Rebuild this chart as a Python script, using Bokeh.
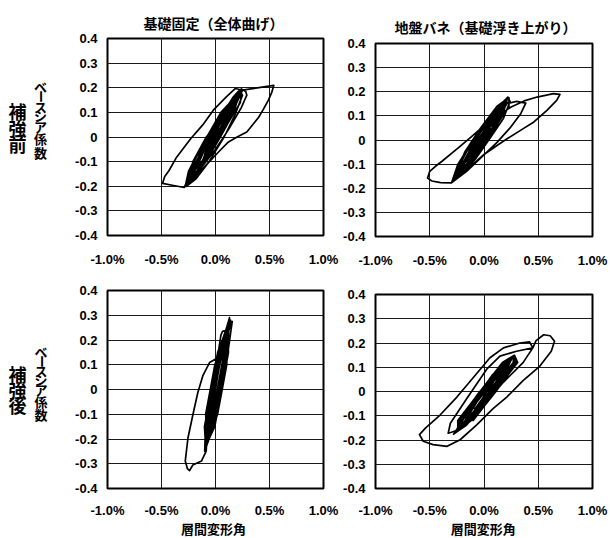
from bokeh.plotting import figure
from bokeh.models import Range1d, FixedTicker, CustomJSTickFormatter
from bokeh.core.properties import value
from bokeh.layouts import column, row
from bokeh.embed import file_html
from bokeh.resources import INLINE

# ---------------- data ----------------
x_ticks = [-1.0, -0.5, 0.0, 0.5, 1.0]
y_ticks = [-0.4, -0.3, -0.2, -0.1, 0.0, 0.1, 0.2, 0.3, 0.4]
col_titles = ["基礎固定（全体曲げ）", "地盤バネ（基礎浮き上がり）"]
row_titles = ["補強前", "補強後"]
y_title = "ベースシア係数"
x_title = "層間変形角"

# (story drift angle [%], base shear coefficient)
tl_pts = [
    (0.00, 0.00), (0.04, 0.06), (0.08, 0.09), (0.10, 0.08), (0.06, 0.03), (-0.02, -0.04),
    (-0.08, -0.08), (-0.10, -0.07), (-0.06, -0.02), (0.02, 0.05), (0.10, 0.12), (0.14, 0.13),
    (0.12, 0.10), (0.04, 0.02), (-0.06, -0.07), (-0.14, -0.12), (-0.16, -0.11), (-0.10, -0.05),
    (0.00, 0.04), (0.10, 0.12), (0.18, 0.17), (0.20, 0.16), (0.14, 0.09), (0.04, 0.00),
    (-0.08, -0.09), (-0.18, -0.16), (-0.22, -0.17), (-0.16, -0.10), (-0.06, -0.01), (0.06, 0.09),
    (0.16, 0.16), (0.22, 0.19), (0.25, 0.17), (0.18, 0.09), (0.08, 0.00), (-0.06, -0.10),
    (-0.18, -0.17), (-0.27, -0.20), (-0.24, -0.16), (-0.14, -0.07), (-0.02, 0.03), (0.10, 0.12),
    (0.20, 0.18), (0.24, 0.195), (0.28, 0.185), (0.29, 0.17), (0.24, 0.12), (0.12, 0.03),
    (0.00, -0.05), (-0.14, -0.13), (-0.29, -0.205), (-0.40, -0.196), (-0.49, -0.188), (-0.47, -0.16),
    (-0.43, -0.136), (-0.36, -0.082), (-0.23, -0.007), (-0.12, 0.048), (-0.02, 0.109), (0.10, 0.163),
    (0.185, 0.197), (0.25, 0.19), (0.54, 0.21), (0.52, 0.18), (0.49, 0.15), (0.44, 0.11),
    (0.40, 0.08), (0.29, 0.02), (0.20, 0.00), (0.12, -0.02), (0.03, -0.06), (-0.10, -0.12),
    (-0.20, -0.17), (-0.29, -0.205), (-0.22, -0.14), (-0.10, -0.05), (0.04, 0.07), (0.14, 0.14),
    (0.18, 0.15), (0.12, 0.08), (0.00, -0.02), (-0.10, -0.10), (-0.14, -0.12), (-0.08, -0.05),
    (0.04, 0.05), (0.10, 0.09), (0.06, 0.05), (0.00, 0.00), (0.06, 0.10), (0.23, 0.19),
    (0.17, 0.10), (0.04, 0.00), (-0.10, -0.10), (-0.27, -0.19), (-0.20, -0.10), (-0.08, 0.00),
    (0.05, 0.10), (0.20, 0.17), (0.17, 0.10), (0.045, 0.00), (-0.09, -0.10), (-0.24, -0.17),
    (-0.21, -0.10), (-0.085, 0.00), (0.005, 0.05), (0.178, 0.15), (0.09, 0.05), (-0.04, -0.05),
    (-0.217, -0.15), (-0.13, -0.05), (-0.02, 0.03), (0.08, 0.08), (0.148, 0.15), (0.22, 0.185),
    (0.208, 0.15), (0.076, 0.05), (-0.056, -0.05), (-0.187, -0.15), (-0.26, -0.185), (-0.247, -0.15),
    (-0.116, -0.05), (-0.004, 0.05), (0.148, 0.15), (0.25, 0.19), (0.208, 0.15), (0.096, 0.05),
    (-0.036, -0.05), (-0.187, -0.15), (-0.24, -0.17), (-0.101, -0.05), (0.031, 0.05), (0.20, 0.165),
    (0.061, 0.05), (-0.071, -0.05), (-0.16, -0.14), (-0.28, -0.20), (-0.25, -0.14), (-0.146, -0.05),
    (-0.014, 0.05), (0.12, 0.13), (0.24, 0.18), (0.23, 0.14), (0.106, 0.05), (-0.026, -0.05),
    (-0.10, -0.08), (-0.02, 0.00),
]

tr_pts = [
    (0.00, 0.00), (0.05, 0.05), (0.10, 0.08), (0.08, 0.05), (0.00, -0.01), (-0.08, -0.06),
    (-0.11, -0.07), (-0.06, -0.02), (0.04, 0.06), (0.12, 0.11), (0.16, 0.12), (0.10, 0.06),
    (0.00, -0.02), (-0.12, -0.10), (-0.18, -0.12), (-0.12, -0.06), (0.00, 0.04), (0.12, 0.12),
    (0.20, 0.16), (0.22, 0.178), (0.24, 0.16), (0.18, 0.09), (0.06, 0.01), (-0.08, -0.08),
    (-0.20, -0.14), (-0.26, -0.16), (-0.20, -0.10), (-0.08, 0.00), (0.06, 0.09), (0.20, 0.15),
    (0.30, 0.16), (0.385, 0.153), (0.34, 0.11), (0.24, 0.05), (0.12, -0.01), (-0.02, -0.07),
    (-0.16, -0.13), (-0.30, -0.178), (-0.40, -0.177), (-0.48, -0.170), (-0.52, -0.158), (-0.50, -0.13),
    (-0.45, -0.11), (-0.39, -0.089), (-0.24, -0.034), (-0.115, 0.014), (0.006, 0.062), (0.13, 0.103),
    (0.25, 0.137), (0.37, 0.162), (0.49, 0.178), (0.64, 0.192), (0.70, 0.189), (0.67, 0.164),
    (0.58, 0.123), (0.46, 0.075), (0.34, 0.041), (0.22, 0.007), (0.13, -0.02), (0.00, -0.06),
    (-0.15, -0.12), (-0.30, -0.178), (-0.22, -0.12), (-0.10, -0.05), (0.04, 0.05), (0.14, 0.11),
    (0.18, 0.12), (0.12, 0.06), (0.00, -0.02), (-0.10, -0.08), (-0.14, -0.09), (-0.06, -0.03),
    (0.04, 0.04), (0.08, 0.05), (0.02, 0.00), (0.05, 0.10), (0.22, 0.178), (0.17, 0.10),
    (0.03, 0.00), (-0.12, -0.10), (-0.30, -0.178), (-0.24, -0.10), (-0.10, 0.00), (0.07, 0.10),
    (0.20, 0.16), (0.15, 0.10), (0.00, 0.00), (-0.15, -0.10), (-0.258, -0.15), (-0.17, -0.05),
    (-0.03, 0.05), (0.18, 0.15), (0.10, 0.05), (-0.05, -0.05), (-0.22, -0.13), (-0.08, -0.01),
    (0.04, 0.06), (0.15, 0.15), (0.21, 0.17), (0.21, 0.15), (0.084, 0.05), (-0.062, -0.05),
    (-0.238, -0.15), (-0.28, -0.165), (-0.278, -0.15), (-0.162, -0.05), (-0.006, 0.05), (0.19, 0.165),
    (0.074, 0.05), (-0.072, -0.05), (-0.25, -0.155), (-0.29, -0.17), (-0.177, -0.05), (-0.031, 0.05),
    (0.12, 0.14), (0.23, 0.175), (0.23, 0.14), (0.099, 0.05), (-0.047, -0.05), (-0.20, -0.14),
    (-0.22, -0.135), (-0.127, -0.05), (0.019, 0.05), (0.17, 0.15), (0.049, 0.05), (-0.097, -0.05),
    (-0.03, 0.00),
]

bl_pts = [
    (0.000, 0.00), (0.037, 0.10), (0.075, 0.16), (0.061, 0.10), (-0.003, -0.05), (-0.053, -0.14),
    (-0.040, -0.05), (0.024, 0.10), (0.092, 0.20), (0.074, 0.10), (0.010, -0.05), (-0.087, -0.22),
    (-0.050, -0.05), (0.014, 0.10), (0.117, 0.26), (0.084, 0.10), (0.020, -0.05), (-0.100, -0.25),
    (-0.060, -0.05), (0.004, 0.10), (0.130, 0.29), (0.100, 0.20), (0.060, 0.14), (0.010, 0.125),
    (-0.055, 0.109), (-0.117, 0.056), (-0.163, -0.011), (-0.210, -0.103), (-0.255, -0.196), (-0.280, -0.289),
    (-0.260, -0.320), (-0.240, -0.328), (-0.210, -0.305), (-0.130, -0.289), (-0.086, -0.249), (-0.065, -0.05),
    (-0.001, 0.10), (0.155, 0.275), (0.099, 0.10), (0.035, -0.05), (-0.079, -0.20), (-0.055, -0.05),
    (0.009, 0.10), (0.050, 0.22), (0.065, 0.235), (0.109, 0.24), (0.089, 0.10), (0.025, -0.05),
    (-0.087, -0.22), (-0.035, -0.05), (0.029, 0.10), (0.122, 0.27), (0.069, 0.10), (0.005, -0.05),
    (-0.062, -0.16), (-0.045, -0.05), (0.019, 0.10), (0.100, 0.22), (0.079, 0.10), (0.015, -0.05),
    (-0.040, -0.10), (0.000, 0.00), (-0.091, -0.23), (-0.102, -0.15), (-0.038, 0.00), (0.025, 0.15),
    (0.126, 0.28), (0.115, 0.15), (0.052, 0.00), (-0.012, -0.15), (-0.079, -0.20), (-0.091, -0.10),
    (-0.048, 0.00), (-0.006, 0.10), (0.113, 0.25), (0.104, 0.10), (0.062, 0.00), (0.019, -0.10),
    (-0.100, -0.25), (-0.066, -0.10), (-0.023, 0.00), (0.019, 0.10), (0.122, 0.27), (0.079, 0.10),
    (0.037, 0.00), (-0.006, -0.10), (-0.087, -0.22), (-0.046, -0.10), (-0.003, 0.00), (0.039, 0.10),
    (0.130, 0.29), (0.059, 0.10), (0.017, 0.00), (-0.026, -0.10), (-0.096, -0.24), (-0.086, -0.10),
    (-0.043, 0.00), (-0.001, 0.10), (0.117, 0.26), (0.099, 0.10), (0.057, 0.00), (0.014, -0.10),
    (-0.050, -0.15), (0.000, 0.00), (-0.100, -0.25), (-0.092, -0.15), (-0.028, 0.00), (0.035, 0.15),
    (0.130, 0.29), (0.105, 0.15), (0.042, 0.00), (-0.022, -0.15), (-0.090, -0.23), (-0.077, -0.15),
    (-0.013, 0.00), (0.050, 0.15), (0.140, 0.28), (0.090, 0.15), (0.027, 0.00), (-0.037, -0.15),
    (-0.080, -0.21), (-0.095, -0.15), (-0.043, 0.00), (0.020, 0.15), (0.110, 0.25), (0.120, 0.15),
    (0.057, 0.00), (-0.007, -0.15), (-0.060, -0.20),
]

br_pts = [
    (0.00, 0.00), (0.05, 0.04), (0.10, 0.07), (0.08, 0.04), (0.00, -0.02), (-0.08, -0.07),
    (-0.10, -0.07), (-0.05, -0.03), (0.04, 0.03), (0.14, 0.09), (0.18, 0.10), (0.14, 0.06),
    (0.02, -0.02), (-0.10, -0.09), (-0.16, -0.12), (-0.12, -0.07), (0.00, 0.01), (0.12, 0.08),
    (0.22, 0.13), (0.26, 0.14), (0.22, 0.10), (0.10, 0.02), (-0.04, -0.06), (-0.16, -0.12),
    (-0.22, -0.15), (-0.18, -0.10), (-0.06, -0.02), (0.08, 0.07), (0.20, 0.12), (0.285, 0.146),
    (0.28, 0.12), (0.18, 0.06), (0.04, -0.03), (-0.10, -0.10), (-0.236, -0.158), (-0.30, -0.168),
    (-0.33, -0.172), (-0.31, -0.131), (-0.16, -0.03), (0.025, 0.092), (0.147, 0.146), (0.30, 0.166),
    (0.45, 0.18), (0.48, 0.21), (0.55, 0.234), (0.61, 0.23), (0.65, 0.207), (0.62, 0.166),
    (0.515, 0.105), (0.36, 0.045), (0.21, -0.023), (0.086, -0.07), (-0.067, -0.138), (-0.22, -0.199),
    (-0.34, -0.226), (-0.47, -0.219), (-0.56, -0.205), (-0.595, -0.178), (-0.54, -0.151), (-0.405, -0.097),
    (-0.25, -0.023), (-0.098, 0.058), (0.055, 0.139), (0.18, 0.18), (0.33, 0.20), (0.42, 0.205),
    (0.45, 0.18), (0.36, 0.119), (0.178, 0.038), (-0.006, -0.057), (-0.16, -0.138), (-0.28, -0.176),
    (-0.20, -0.12), (-0.06, -0.04), (0.08, 0.04), (0.18, 0.09), (0.22, 0.10), (0.16, 0.05),
    (0.02, -0.03), (-0.10, -0.09), (-0.14, -0.10), (-0.08, -0.05), (0.04, 0.02), (0.10, 0.05),
    (0.04, 0.00), (0.05, 0.05), (0.14, 0.10), (0.285, 0.146), (0.27, 0.10), (0.19, 0.05),
    (0.11, 0.00), (0.02, -0.05), (-0.07, -0.10), (-0.236, -0.158), (-0.20, -0.10), (-0.12, -0.05),
    (-0.04, 0.00), (0.08, 0.05), (0.22, 0.13), (0.16, 0.05), (0.07, 0.00), (-0.01, -0.05),
    (-0.20, -0.14), (-0.09, -0.05), (0.00, 0.00), (0.09, 0.05), (0.21, 0.12), (0.27, 0.14),
    (0.27, 0.12), (0.15, 0.05), (-0.021, -0.05), (-0.142, -0.12), (-0.22, -0.15), (-0.202, -0.12),
    (-0.081, -0.05), (0.065, 0.05), (0.185, 0.12), (0.26, 0.145), (0.295, 0.12), (0.175, 0.05),
    (0.004, -0.05), (-0.117, -0.12), (-0.23, -0.155), (-0.227, -0.12), (-0.106, -0.05), (0.105, 0.05),
    (0.25, 0.135), (0.135, 0.05), (-0.036, -0.05), (-0.20, -0.14), (-0.24, -0.16), (-0.242, -0.12),
    (-0.121, -0.05), (0.05, 0.05), (0.17, 0.12), (0.28, 0.15), (0.31, 0.12), (0.19, 0.05),
    (0.019, -0.05), (-0.10, -0.12), (-0.05, -0.06), (0.02, 0.00),
]

# ---------------- styling helpers ----------------
CJK = "Noto Sans CJK JP"
NUM = "Liberation Sans"


def make_panel(pts, w, h, left, right, top, bottom, x_standoff):
    p = figure(width=w, height=h, x_range=Range1d(-1.0, 1.0), y_range=Range1d(-0.4, 0.4),
               output_backend="svg", toolbar_location=None,
               min_border_left=left, min_border_right=right,
               min_border_top=top, min_border_bottom=bottom,
               background_fill_color="white", border_fill_color="white")
    xs = [a for a, b in pts]
    ys = [b for a, b in pts]
    p.line(xs, ys, line_color="black", line_width=1.7, line_join="round")

    p.xaxis.ticker = FixedTicker(ticks=x_ticks)
    p.yaxis.ticker = FixedTicker(ticks=y_ticks)
    p.xaxis.formatter = CustomJSTickFormatter(code="return tick.toFixed(1) + '%';")
    p.yaxis.formatter = CustomJSTickFormatter(
        code="return Math.abs(tick) < 1e-9 ? '0' : tick.toFixed(1);")
    for ax in (p.xaxis, p.yaxis):
        ax.axis_line_color = None
        ax.major_tick_line_color = None
        ax.minor_tick_line_color = None
        ax.major_tick_out = 0
        ax.major_tick_in = 0
        ax.major_label_text_font = NUM
        ax.major_label_text_font_style = "bold"
        ax.major_label_text_font_size = "13px"
        ax.major_label_text_color = "black"
    p.xaxis.major_label_standoff = x_standoff
    p.yaxis.major_label_standoff = 10

    p.grid.grid_line_color = "#1a1a1a"
    p.grid.grid_line_width = 1
    p.grid.grid_line_alpha = 1.0
    p.outline_line_color = "black"
    p.outline_line_width = 2
    p.outline_line_alpha = 1.0
    return p


def text_panel(w, h, items):
    """A bare figure whose data space is its own pixel grid (y downwards)."""
    f = figure(width=w, height=h, x_range=Range1d(0, w), y_range=Range1d(h, 0),
               output_backend="svg", toolbar_location=None,
               x_axis_location=None, y_axis_location=None,
               min_border=0, min_border_left=0, min_border_right=0,
               min_border_top=0, min_border_bottom=0,
               background_fill_color="white", border_fill_color="white")
    f.outline_line_color = None
    f.grid.visible = False
    for txt, x, y, size, angle in items:
        f.text(x=[x], y=[y], text=[txt], angle=angle, angle_units="deg",
               text_font=value(CJK), text_font_style="bold", text_font_size=size,
               text_color="black", text_align="center", text_baseline="middle")
    return f


def vertical(text, x, ys, size):
    return [(ch, x, y, size, 90 if ch == "ー" else 0) for ch, y in zip(text, ys)]


# ---------------- panels (the page has no margin: content starts at 0,0) ----------------
tl = make_panel(tl_pts, 280, 239, 47, 17, 7, 35, 16)
tr = make_panel(tr_pts, 268, 234, 33, 16, 7, 33, 16)
bl = make_panel(bl_pts, 280, 250, 47, 17, 20, 29, 14)
br = make_panel(br_pts, 268, 250, 34, 16, 24, 29, 14)

header_l = text_panel(340, 31, [(col_titles[0], 213, 22, "14px", 0)])
header_r = text_panel(268, 36, [(col_titles[1], 136, 26.5, "14px", 0)])
footer_l = text_panel(340, 17, [(x_title, 213, 8, "13px", 0)])
footer_r = text_panel(268, 17, [(x_title, 133, 8, "13px", 0)])

lab_top = text_panel(60, 239,
                     vertical(row_titles[0], 17, [88.5, 108.5, 128.5], "18px")
                     + vertical(y_title, 40, [58, 70.5, 82.5, 94, 106.5, 121, 138], "13px"))
lab_bot = text_panel(60, 250,
                     vertical(row_titles[1], 17, [105, 125, 145], "18px")
                     + vertical(y_title, 40.5, [77, 89.5, 101.5, 113, 125.5, 140, 157], "13px"))

left_col = column(header_l, row(lab_top, tl), row(lab_bot, bl), footer_l)
right_col = column(header_r, tr, br, footer_r)
layout = row(left_col, right_col)

open("out.html", "w").write(file_html(layout, INLINE))
